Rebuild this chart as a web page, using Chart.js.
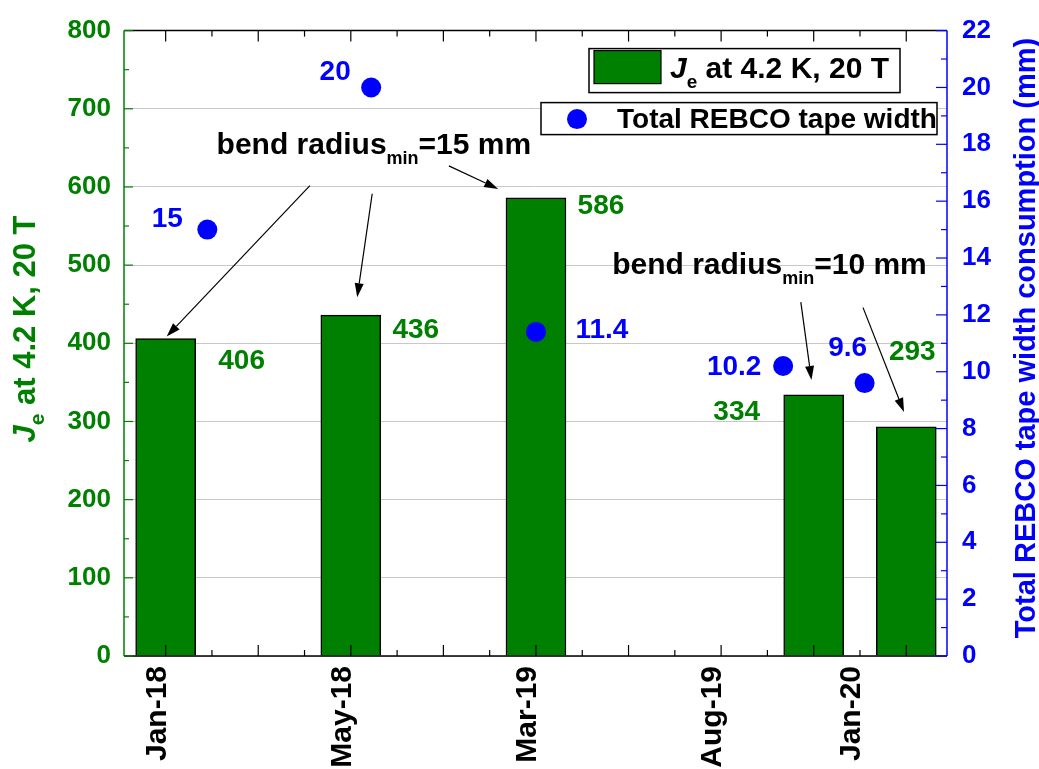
<!DOCTYPE html>
<html>
<head>
<meta charset="utf-8">
<script src="https://cdn.jsdelivr.net/npm/chart.js@4.4.0/dist/chart.umd.min.js"></script>
<style>
  html, body { margin: 0; padding: 0; background: #fff; }
  canvas { display: block; }
</style>
</head>
<body>
<canvas id="c" width="1039" height="769"></canvas>
<script>
// ---- data ----
const tickValues = [1, 3, 5, 7, 8.5];
const tickLabels = ['Jan-18', 'May-18', 'Mar-19', 'Aug-19', 'Jan-20'];
const barPositions = [1, 3, 5, 8, 9];
const jeValues = [406, 436, 586, 334, 293];
const widthPositions = [1.45, 3.22, 5, 7.67, 8.55];
const widthValues = [15, 20, 11.4, 10.2, 9.6];

// ---- label placement (pixel shifts from each mark) ----
const jeLabelShift = [[76, 23], [65, 15], [65, 8], [-77, 17], [6, -75]];
const widthLabelShift = [[-40, -10], [-36, -15], [66, -2], [-49, 1], [-17, -35]];

// ---- annotations, in axis units (x, left y) ----
const notes = [
  { head: 'bend radius', sub: 'min', tail: '=15 mm', at: [1.55, 642.5] },
  { head: 'bend radius', sub: 'min', tail: '=10 mm', at: [5.823, 489.2] }
];
const arrows = [
  [[2.558, 601.8], [1.011, 408.6]],
  [[3.231, 591.3], [3.069, 459]],
  [[4.059, 627], [4.592, 597.5]],
  [[7.861, 452.7], [7.976, 353.1]],
  [[8.533, 445.6], [8.976, 312.1]]
];

const GREEN = '#008000';
const BLUE = '#0000ff';
const FAMILY = "'Liberation Sans', Arial, Helvetica, sans-serif";
Chart.defaults.font.family = FAMILY;

function seg(ctx, x1, y1, x2, y2, color, w) {
  ctx.beginPath();
  ctx.strokeStyle = color;
  ctx.lineWidth = w;
  ctx.moveTo(x1, y1);
  ctx.lineTo(x2, y2);
  ctx.stroke();
}

function label(ctx, s, x, y, size, color) {
  ctx.font = 'bold ' + size + 'px ' + FAMILY;
  ctx.fillStyle = color;
  ctx.textAlign = 'center';
  ctx.textBaseline = 'middle';
  ctx.fillText(s, x, y);
}

// draws a run of [text, font, dy] pieces starting at x on baseline y
function runs(ctx, pieces, x, y, color) {
  ctx.fillStyle = color;
  ctx.textAlign = 'left';
  ctx.textBaseline = 'alphabetic';
  let cx = x;
  for (const [t, f, dy] of pieces) {
    ctx.font = f;
    ctx.fillText(t, cx, y + dy);
    cx += ctx.measureText(t).width;
  }
  return cx - x;
}
function runsWidth(ctx, pieces) {
  let w = 0;
  for (const [t, f] of pieces) { ctx.font = f; w += ctx.measureText(t).width; }
  return w;
}

const decor = {
  id: 'decor',
  afterDatasetsDraw(chart) {
    const { ctx, chartArea: a, scales: { x, y, y1 } } = chart;
    ctx.save();

    // frame
    seg(ctx, a.left, a.top, a.right, a.top, '#000', 1.5);
    seg(ctx, a.left, a.bottom, a.right, a.bottom, '#000', 1.5);
    seg(ctx, a.left, a.top, a.left, a.bottom, GREEN, 1.5);
    seg(ctx, a.right, a.top, a.right, a.bottom, BLUE, 1.5);

    // inward tick marks
    for (let v = Math.ceil(x.min * 2) / 2; v <= x.max; v += 0.5) {
      const px = x.getPixelForValue(v);
      const len = Number.isInteger(v) ? 11 : 6;
      seg(ctx, px, a.bottom, px, a.bottom - len, '#000', 1.2);
      seg(ctx, px, a.top, px, a.top + len, '#000', 1.2);
    }
    for (let v = 0; v <= y.max; v += 50) {
      const py = y.getPixelForValue(v);
      seg(ctx, a.left, py, a.left + (v % 100 === 0 ? 9 : 5), py, GREEN, 1.2);
    }
    for (let v = 0; v <= y1.max; v += 1) {
      const py = y1.getPixelForValue(v);
      seg(ctx, a.right, py, a.right - (v % 2 === 0 ? 11 : 6), py, BLUE, 1.2);
    }

    // value labels
    jeValues.forEach((v, i) => {
      const px = x.getPixelForValue(barPositions[i]);
      const py = y.getPixelForValue(v);
      label(ctx, String(v), px + jeLabelShift[i][0], py + jeLabelShift[i][1], 28, GREEN);
    });
    widthValues.forEach((v, i) => {
      const px = x.getPixelForValue(widthPositions[i]);
      const py = y1.getPixelForValue(v);
      label(ctx, String(v), px + widthLabelShift[i][0], py + widthLabelShift[i][1], 28, BLUE);
    });

    // annotation text
    for (const n of notes) {
      const px = x.getPixelForValue(n.at[0]);
      const py = y.getPixelForValue(n.at[1]);
      runs(ctx, [
        [n.head, 'bold 30px ' + FAMILY, 0],
        [n.sub, 'bold 18px ' + FAMILY, 10],
        [n.tail, 'bold 30px ' + FAMILY, 0]
      ], px, py, '#000');
    }
    // arrows
    for (const [[sx, sy], [ex, ey]] of arrows) {
      const x1 = x.getPixelForValue(sx), y1p = y.getPixelForValue(sy);
      const x2 = x.getPixelForValue(ex), y2 = y.getPixelForValue(ey);
      const ang = Math.atan2(y2 - y1p, x2 - x1);
      const hl = 14, hw = 4.5;
      const bx = x2 - hl * Math.cos(ang), by = y2 - hl * Math.sin(ang);
      seg(ctx, x1, y1p, bx, by, '#000', 1.2);
      ctx.beginPath();
      ctx.fillStyle = '#000';
      ctx.moveTo(x2, y2);
      ctx.lineTo(bx + hw * Math.sin(ang), by - hw * Math.cos(ang));
      ctx.lineTo(bx - hw * Math.sin(ang), by + hw * Math.cos(ang));
      ctx.closePath();
      ctx.fill();
    }

    // legend
    const L1 = { l: a.right - 358, t: a.top + 18, w: 311, h: 44 };
    ctx.fillStyle = '#fff';
    ctx.fillRect(L1.l, L1.t, L1.w, L1.h);
    ctx.strokeStyle = '#000'; ctx.lineWidth = 1.5;
    ctx.strokeRect(L1.l, L1.t, L1.w, L1.h);
    ctx.fillStyle = GREEN;
    ctx.fillRect(L1.l + 5, L1.t + 2, 67, 33);
    ctx.lineWidth = 1.2;
    ctx.strokeRect(L1.l + 5, L1.t + 2, 67, 33);
    runs(ctx, [
      ['J', 'italic bold 30px ' + FAMILY, 0],
      ['e', 'bold 19px ' + FAMILY, 10],
      [' at 4.2 K, 20 T', 'bold 30px ' + FAMILY, 0]
    ], L1.l + 81, L1.t + 29, '#000');

    const L2 = { l: a.right - 406, t: a.top + 72, w: 396, h: 32 };
    ctx.fillStyle = '#fff';
    ctx.fillRect(L2.l, L2.t, L2.w, L2.h);
    ctx.strokeStyle = '#000'; ctx.lineWidth = 1.5;
    ctx.strokeRect(L2.l, L2.t, L2.w, L2.h);
    ctx.beginPath();
    ctx.fillStyle = BLUE;
    ctx.arc(L2.l + 36, L2.t + 16.5, 10, 0, Math.PI * 2);
    ctx.fill();
    runs(ctx, [['Total REBCO tape width', 'bold 28px ' + FAMILY, 0]], L2.l + 76, L2.t + 25, '#000');

    // axis titles
    ctx.save();
    ctx.translate(35, 329);
    ctx.rotate(-Math.PI / 2);
    const leftTitle = [
      ['J', 'italic bold 31px ' + FAMILY, 0],
      ['e', 'bold 21px ' + FAMILY, 9],
      [' at 4.2 K, 20 T', 'bold 31px ' + FAMILY, 0]
    ];
    runs(ctx, leftTitle, -runsWidth(ctx, leftTitle) / 2, 0, GREEN);
    ctx.restore();

    ctx.save();
    ctx.translate(1035, 338);
    ctx.rotate(-Math.PI / 2);
    const rightTitle = [['Total REBCO tape width consumption (mm)', 'bold 29px ' + FAMILY, 0]];
    runs(ctx, rightTitle, -runsWidth(ctx, rightTitle) / 2, 0, BLUE);
    ctx.restore();

    ctx.restore();
  }
};

new Chart(document.getElementById('c'), {
  type: 'bar',
  data: {
    datasets: [
      {
        type: 'scatter',
        label: 'Total REBCO tape width',
        data: widthPositions.map((p, i) => ({ x: p, y: widthValues[i] })),
        xAxisID: 'x',
        yAxisID: 'y1',
        pointRadius: 10,
        pointHoverRadius: 10,
        pointBackgroundColor: BLUE,
        pointBorderWidth: 0,
        order: 1
      },
      {
        type: 'bar',
        label: 'Je at 4.2 K, 20 T',
        data: barPositions.map((p, i) => ({ x: p, y: jeValues[i] })),
        xAxisID: 'x',
        yAxisID: 'y',
        backgroundColor: GREEN,
        borderColor: '#000',
        borderWidth: 1.5,
        barThickness: 60,
        grouped: false,
        order: 2
      }
    ]
  },
  options: {
    responsive: false,
    animation: false,
    devicePixelRatio: 1,
    layout: { padding: { top: 21, left: 0, right: 0, bottom: 0 } },
    plugins: { legend: { display: false }, tooltip: { enabled: false } },
    scales: {
      x: {
        type: 'linear',
        min: 0.55,
        max: 9.44,
        offset: false,
        grid: { display: false, drawTicks: false },
        border: { display: false },
        afterBuildTicks: s => { s.ticks = tickValues.map(v => ({ value: v })); },
        afterFit: s => { s.height = 113; },
        ticks: {
          autoSkip: false,
          minRotation: 90,
          maxRotation: 90,
          padding: 10,
          labelOffset: -8,
          color: '#000',
          font: { size: 30, weight: 'bold' },
          callback: v => { const k = tickValues.indexOf(v); return k < 0 ? '' : tickLabels[k]; }
        }
      },
      y: {
        position: 'left',
        min: 0,
        max: 800,
        grid: { color: '#c8c8c8', lineWidth: 1, drawTicks: false },
        border: { display: false },
        afterFit: s => { s.width = 124; },
        ticks: { stepSize: 100, padding: 13, color: GREEN, font: { size: 26, weight: 'bold' } }
      },
      y1: {
        position: 'right',
        min: 0,
        max: 22,
        grid: { display: false, drawTicks: false },
        border: { display: false },
        afterFit: s => { s.width = 92; },
        ticks: { stepSize: 2, padding: 15, color: BLUE, font: { size: 26, weight: 'bold' } }
      }
    }
  },
  plugins: [decor]
});
</script>
</body>
</html>
